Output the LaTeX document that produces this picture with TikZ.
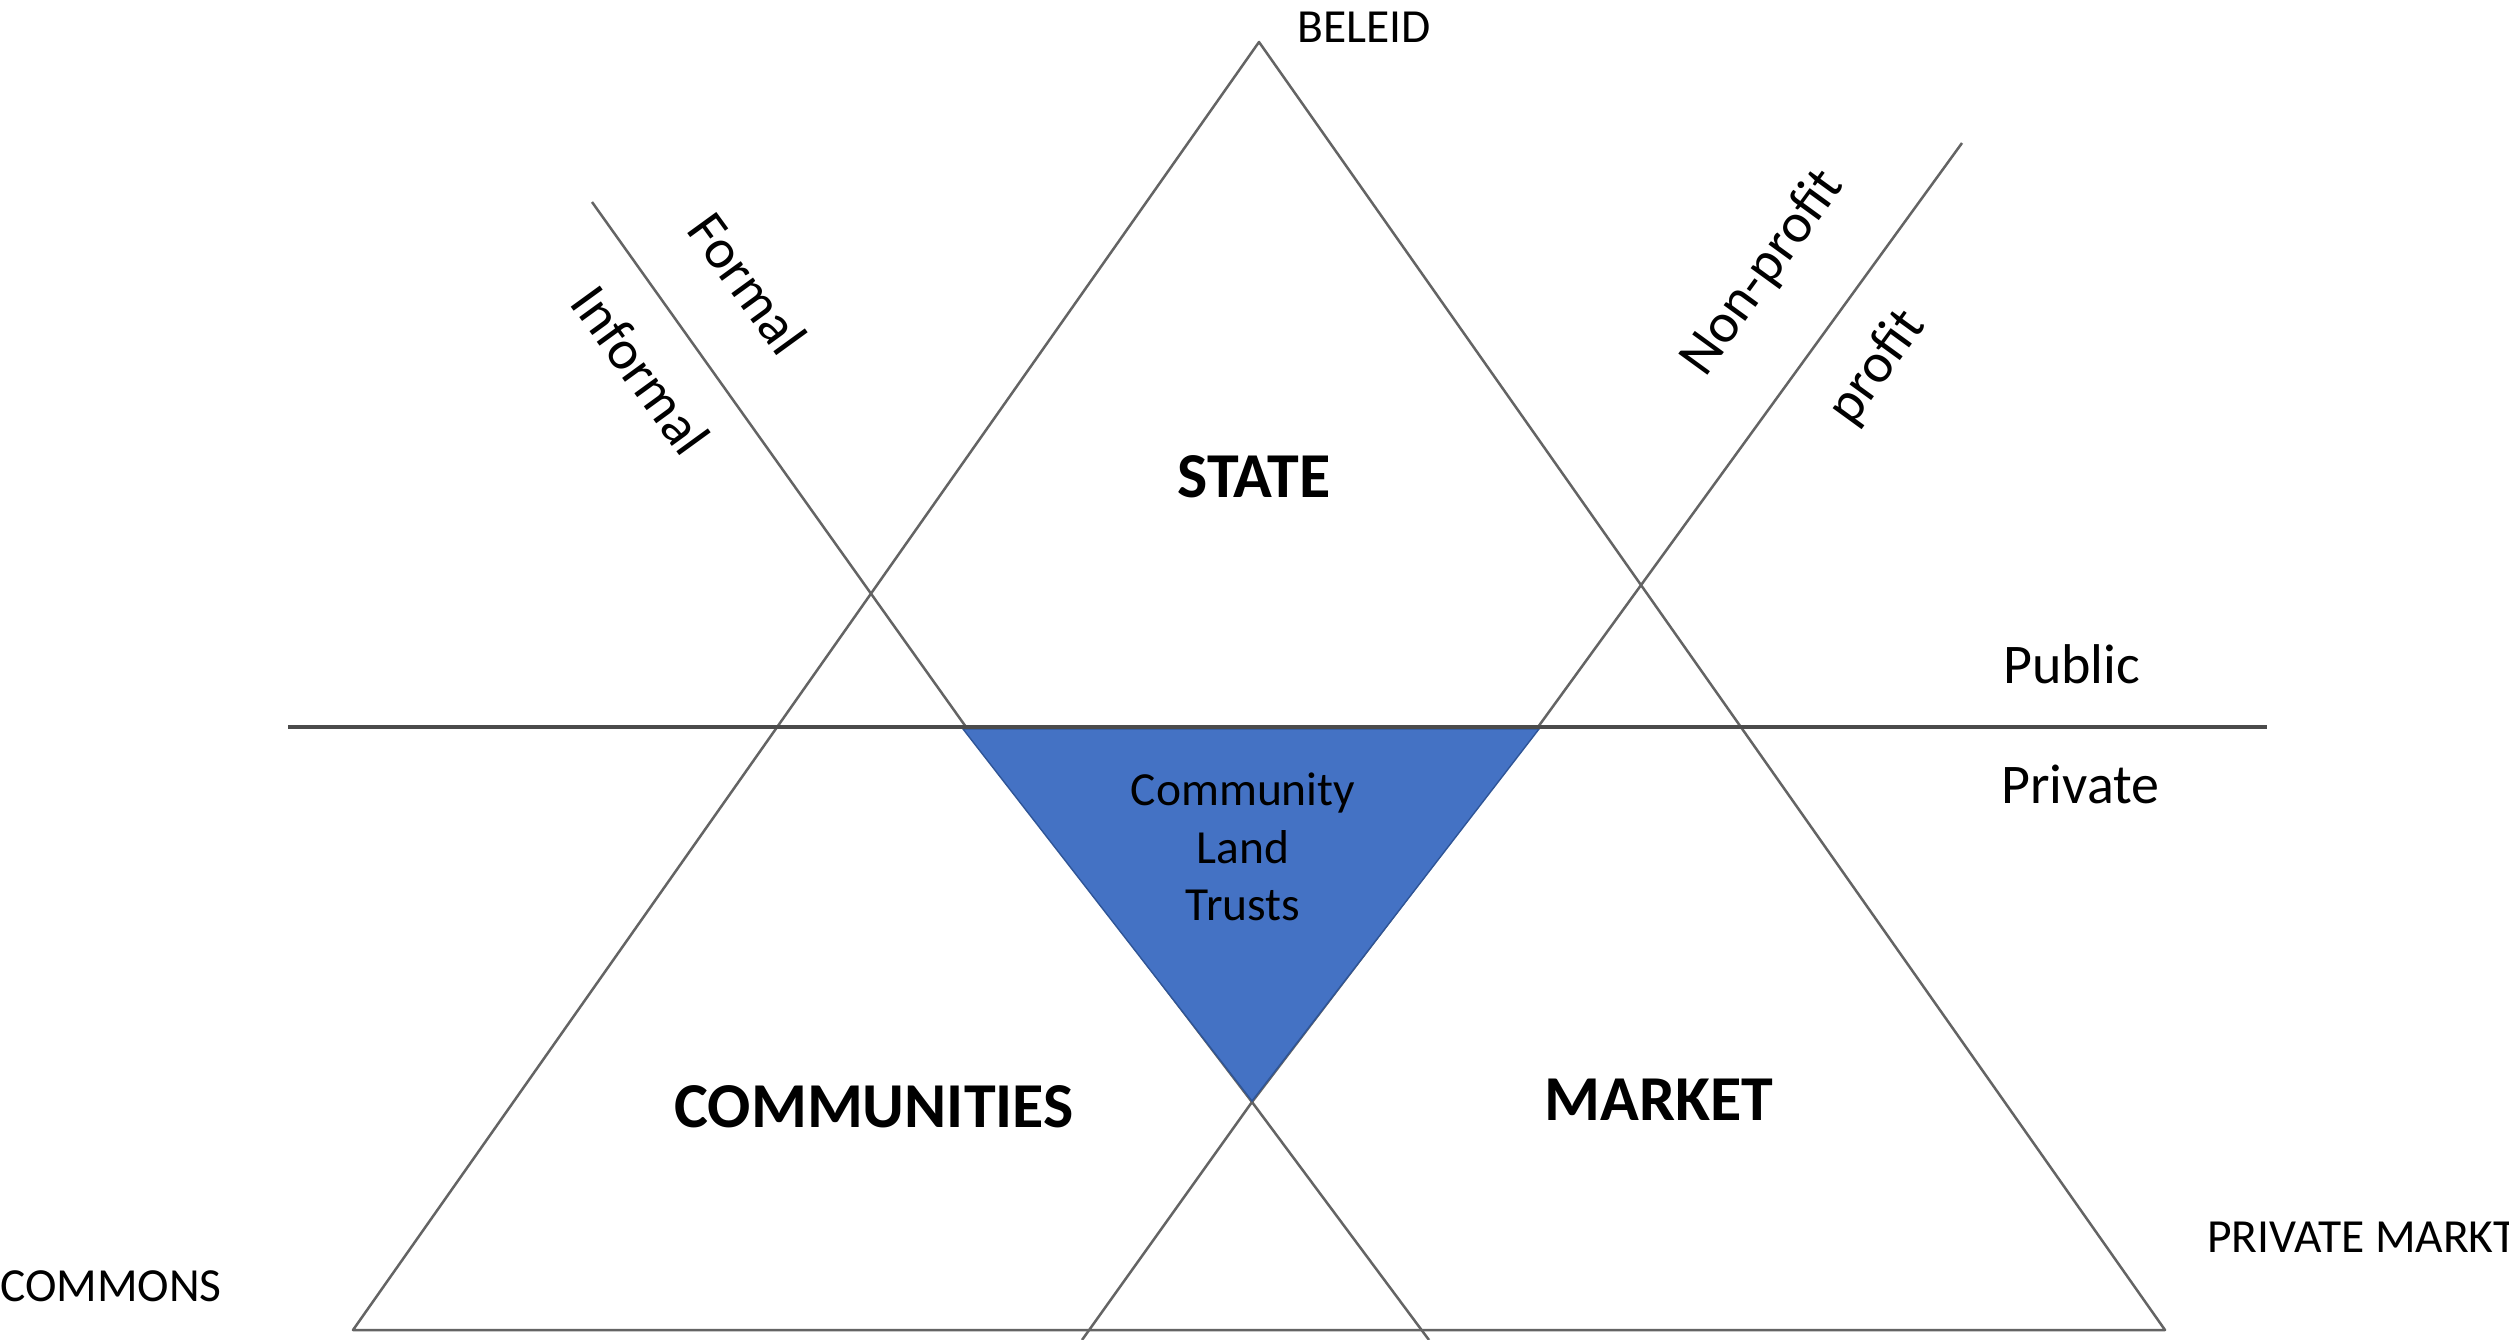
\documentclass[tikz,border=0pt]{standalone}
\usepackage{fontspec}
\setmainfont{Carlito}
\definecolor{linegray}{RGB}{100,100,100}
\definecolor{axisgray}{RGB}{75,75,75}
\definecolor{cltblue}{HTML}{4472C4}
\definecolor{cltedge}{HTML}{2F5597}
\begin{document}
\begin{tikzpicture}[x=1pt,y=-1pt,
  ln/.style={draw=linegray, line width=2.5pt, line join=round},
  axis/.style={draw=axisgray, line width=3.2pt},
  small/.style={font=\fontsize{47.5}{52}\selectfont, inner sep=0pt},
  side/.style={font=\fontsize{56}{60}\selectfont, inner sep=0pt},
  big/.style={font=\fontsize{64}{70}\selectfont\bfseries, inner sep=0pt},
  clt/.style={font=\fontsize{47.5}{52}\selectfont, inner sep=0pt, anchor=base}]
\useasboundingbox (0,0) rectangle (2509,1340);
\fill[white] (0,0) rectangle (2509,1340);
% big triangle
\coordinate (apex) at (1259,42);
\coordinate (bl) at (353,1330);
\coordinate (br) at (2165,1330);
\draw[ln] (apex) -- (bl) -- (br) -- cycle;
% formal / informal line
\coordinate (f0) at (592,202);
\coordinate (f1) at (966,727);
\coordinate (x0) at (1252,1102);
\coordinate (f3) at (1429,1340);
\draw[ln] (f0) -- (f1) -- (x0) -- (f3);
% profit / non-profit line
\coordinate (p0) at (1962,143);
\coordinate (p1) at (1538,727);
\coordinate (p3) at (1082,1340);
\draw[ln] (p0) -- (p1) -- (x0) -- (p3);
% community land trusts
\coordinate (t1) at (963,729);
\coordinate (t2) at (1539,729);
\coordinate (t3) at (1252,1101);
\filldraw[fill=cltblue, draw=cltedge, line width=1.4pt] (t1) -- (t2) -- (t3) -- cycle;
% public / private axis
\coordinate (h0) at (288,727);
\coordinate (h1) at (2267,727);
\draw[axis] (h0) -- (h1);
% labels
\node[small, anchor=base west] (beleid) at (1297,43) {BELEID};
\node[small, anchor=base west] (commons) at (0,1301) {COMMONS};
\node[small, anchor=base west] (pmarkt) at (2207,1252) {PRIVATE MARKT};
\node[side, anchor=base west] (public) at (2003,683) {Public};
\node[side, anchor=base west] (private) at (2001,803) {Private};
\node[side, rotate=-54] (formal) at (748,283) {Formal};
\node[side, rotate=-54] (informal) at (641,370) {Informal};
\node[side, rotate=54] (nonprofit) at (1763,273) {Non-profit};
\node[side, rotate=54] (profit) at (1877,368) {profit};
\node[big, anchor=base] (state) at (1254,497) {STATE};
\node[big, anchor=base] (communities) at (874,1127) {COMMUNITIES};
\node[big, anchor=base] (market) at (1659,1120) {MARKET};
\node[clt] (clt1) at (1243,805) {Community};
\node[clt] (clt2) at (1243,863) {Land};
\node[clt] (clt3) at (1243,920) {Trusts};
\end{tikzpicture}
\end{document}
